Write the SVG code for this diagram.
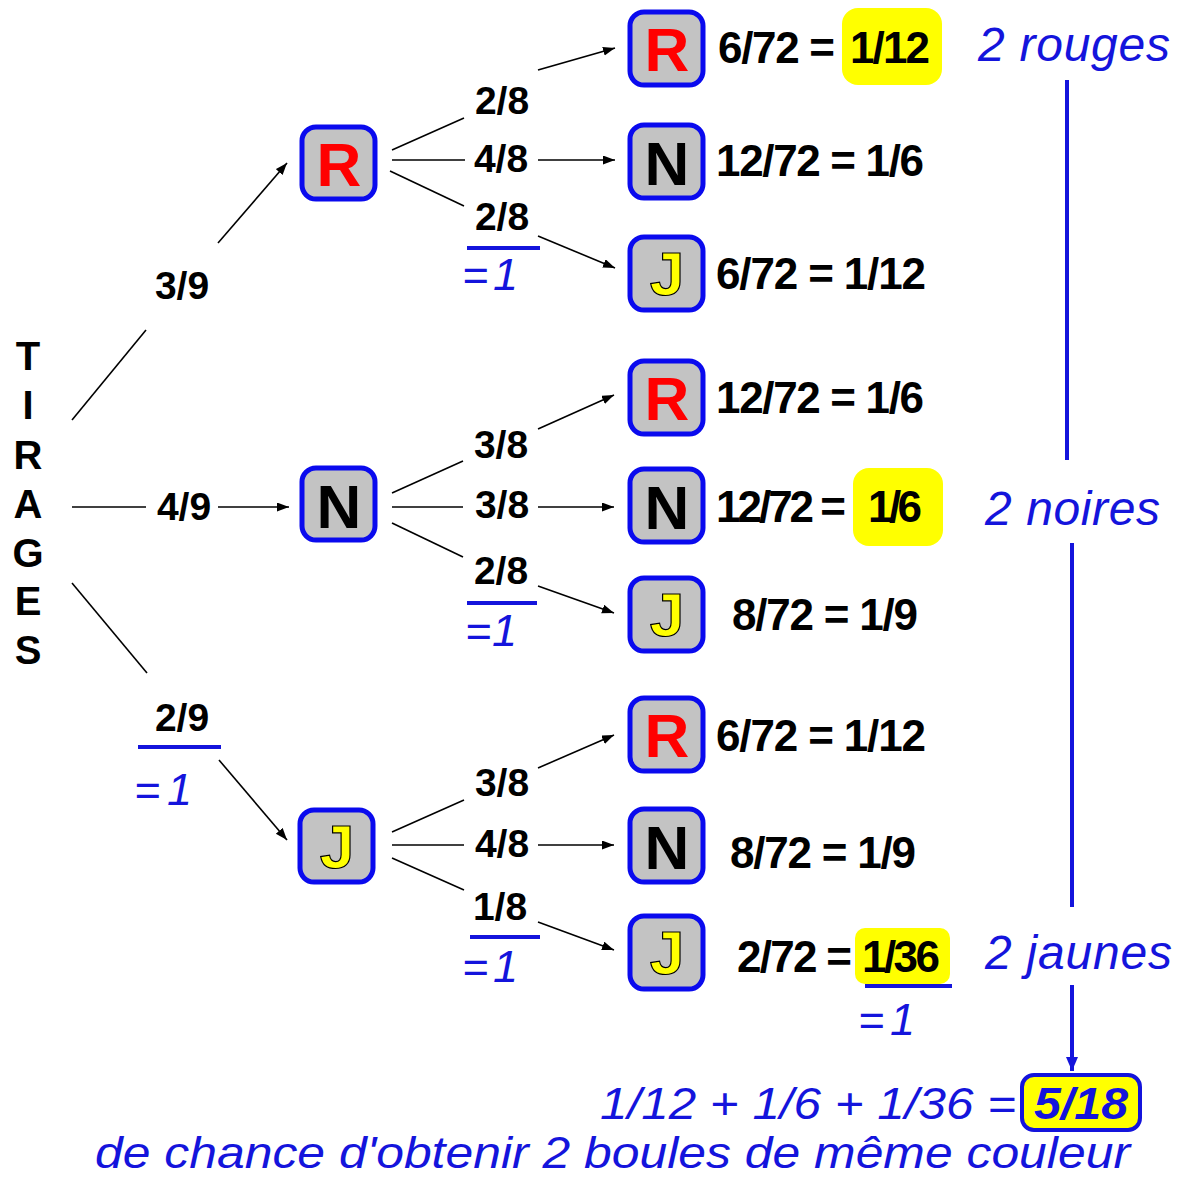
<svg xmlns="http://www.w3.org/2000/svg" width="1181" height="1177" viewBox="0 0 1181 1177">
  <style>
    .box { fill: #c3c3c3; stroke: #0a0aee; stroke-width: 5; }
    .ltr { font-family: "Liberation Sans", Arial, sans-serif; font-size: 62px; font-weight: bold; text-anchor: middle; }
    .lr { fill: #ff0000; }
    .ln { fill: #000000; }
    .lj { fill: #ffff00; stroke: #000000; stroke-width: 1.2; }
    .frac { font-family: "Liberation Sans", Arial, sans-serif; font-size: 39px; font-weight: bold; fill: #000; text-anchor: middle; }
    .res { font-family: "Liberation Sans", Arial, sans-serif; font-size: 44px; font-weight: bold; fill: #000; }
    .blue { font-family: "Liberation Sans", Arial, sans-serif; font-style: italic; fill: #1414dc; }
    .sum { font-size: 45px; }
    .lab { font-size: 48px; }
    .foot { font-size: 45px; }
    .ttl { font-family: "Liberation Sans", Arial, sans-serif; font-size: 40px; font-weight: bold; fill: #000; text-anchor: middle; }
    .bar { stroke: #1414dc; stroke-width: 4; fill: none; }
    .hl { fill: #ffff00; }
    .edge { stroke: #000; stroke-width: 1.6; fill: none; }
  </style>
  <defs>
    <marker id="ah" markerUnits="userSpaceOnUse" markerWidth="13" markerHeight="10" refX="12" refY="4.5" orient="auto">
      <path d="M0,0 L12,4.5 L0,9 z" fill="#000"/>
    </marker>
    <marker id="ahb" markerUnits="userSpaceOnUse" markerWidth="16" markerHeight="14" refX="14" refY="6" orient="auto">
      <path d="M0,0 L14,6 L0,12 z" fill="#1414dc"/>
    </marker>
  </defs>

  <rect width="1181" height="1177" fill="#ffffff"/>

  <!-- vertical title -->
  <g id="title">
    <text class="ttl" x="28" y="370">T</text>
    <text class="ttl" x="28" y="419">I</text>
    <text class="ttl" x="28" y="469">R</text>
    <text class="ttl" x="28" y="518">A</text>
    <text class="ttl" x="28" y="567">G</text>
    <text class="ttl" x="28" y="615">E</text>
    <text class="ttl" x="28" y="664">S</text>
  </g>

  <!-- connectors -->
  <g id="connectors">
    <line class="edge" x1="72" y1="420" x2="146" y2="330"/>
    <line class="edge" x1="218" y1="243" x2="287" y2="163" marker-end="url(#ah)"/>
    <line class="edge" x1="72" y1="507" x2="146" y2="507"/>
    <line class="edge" x1="218" y1="507" x2="289" y2="507" marker-end="url(#ah)"/>
    <line class="edge" x1="72" y1="583" x2="147" y2="673"/>
    <line class="edge" x1="219" y1="760" x2="287" y2="840" marker-end="url(#ah)"/>

    <line class="edge" x1="392" y1="150" x2="464" y2="118"/>
    <line class="edge" x1="538" y1="70" x2="615" y2="48" marker-end="url(#ah)"/>
    <line class="edge" x1="392" y1="160" x2="465" y2="160"/>
    <line class="edge" x1="538" y1="160" x2="615" y2="160" marker-end="url(#ah)"/>
    <line class="edge" x1="390" y1="171" x2="464" y2="206"/>
    <line class="edge" x1="538" y1="236" x2="615" y2="268" marker-end="url(#ah)"/>

    <line class="edge" x1="392" y1="493" x2="463" y2="461"/>
    <line class="edge" x1="538" y1="429" x2="614" y2="395" marker-end="url(#ah)"/>
    <line class="edge" x1="392" y1="507" x2="463" y2="507"/>
    <line class="edge" x1="538" y1="507" x2="614" y2="507" marker-end="url(#ah)"/>
    <line class="edge" x1="392" y1="523" x2="463" y2="557"/>
    <line class="edge" x1="538" y1="586" x2="614" y2="613" marker-end="url(#ah)"/>

    <line class="edge" x1="392" y1="832" x2="464" y2="800"/>
    <line class="edge" x1="538" y1="768" x2="614" y2="735" marker-end="url(#ah)"/>
    <line class="edge" x1="392" y1="845" x2="464" y2="845"/>
    <line class="edge" x1="538" y1="845" x2="614" y2="845" marker-end="url(#ah)"/>
    <line class="edge" x1="392" y1="858" x2="464" y2="890"/>
    <line class="edge" x1="538" y1="922" x2="614" y2="950" marker-end="url(#ah)"/>

    <!-- blue summary line -->
    <line class="bar" x1="1067" y1="80" x2="1067" y2="460"/>
    <line class="bar" x1="1072" y1="543" x2="1072" y2="907"/>
    <line class="bar" x1="1072" y1="985" x2="1072" y2="1071" marker-end="url(#ahb)"/>
  </g>

  <!-- branch probabilities -->
  <g id="labels">
    <text class="frac" x="182" y="299">3/9</text>
    <text class="frac" x="184" y="520">4/9</text>
    <text class="frac" x="182" y="731">2/9</text>
    <line class="bar" x1="138" y1="747" x2="221" y2="747"/>
    <text class="blue sum" x="134" y="805" textLength="58">= 1</text>

    <text class="frac" x="502" y="114">2/8</text>
    <text class="frac" x="501" y="172">4/8</text>
    <text class="frac" x="502" y="230">2/8</text>
    <line class="bar" x1="467" y1="248" x2="540" y2="248"/>
    <text class="blue sum" x="462" y="290" textLength="56">=1</text>

    <text class="frac" x="501" y="458">3/8</text>
    <text class="frac" x="502" y="518">3/8</text>
    <text class="frac" x="501" y="584">2/8</text>
    <line class="bar" x1="467" y1="603" x2="537" y2="603"/>
    <text class="blue sum" x="465" y="646" textLength="52">=1</text>

    <text class="frac" x="502" y="796">3/8</text>
    <text class="frac" x="502" y="857">4/8</text>
    <text class="frac" x="500" y="920">1/8</text>
    <line class="bar" x1="470" y1="937" x2="540" y2="937"/>
    <text class="blue sum" x="462" y="982" textLength="56">= 1</text>
  </g>

  <!-- first draw -->
  <g id="n1-R"><rect class="box" x="302" y="127" width="73" height="72" rx="14"/><text class="ltr lr" x="339" y="186">R</text></g>
  <g id="n1-N"><rect class="box" x="302" y="468" width="73" height="72" rx="14"/><text class="ltr ln" x="339" y="528">N</text></g>
  <g id="n1-J"><rect class="box" x="300" y="810" width="73" height="72" rx="14"/><text class="ltr lj" x="337" y="868">J</text></g>

  <!-- second draw -->
  <g id="n2-RR"><rect class="box" x="630" y="12" width="73" height="73" rx="14"/><text class="ltr lr" x="667" y="71">R</text></g>
  <g id="n2-RN"><rect class="box" x="630" y="125" width="73" height="73" rx="14"/><text class="ltr ln" x="667" y="185">N</text></g>
  <g id="n2-RJ"><rect class="box" x="630" y="237" width="73" height="73" rx="14"/><text class="ltr lj" x="667" y="295">J</text></g>
  <g id="n2-NR"><rect class="box" x="630" y="361" width="73" height="73" rx="14"/><text class="ltr lr" x="667" y="420">R</text></g>
  <g id="n2-NN"><rect class="box" x="630" y="469" width="73" height="73" rx="14"/><text class="ltr ln" x="667" y="529">N</text></g>
  <g id="n2-NJ"><rect class="box" x="630" y="578" width="73" height="73" rx="14"/><text class="ltr lj" x="667" y="636">J</text></g>
  <g id="n2-JR"><rect class="box" x="630" y="698" width="73" height="73" rx="14"/><text class="ltr lr" x="667" y="757">R</text></g>
  <g id="n2-JN"><rect class="box" x="630" y="809" width="73" height="73" rx="14"/><text class="ltr ln" x="667" y="869">N</text></g>
  <g id="n2-JJ"><rect class="box" x="630" y="916" width="73" height="73" rx="14"/><text class="ltr lj" x="667" y="974">J</text></g>

  <!-- path probabilities -->
  <g id="results">
    <rect class="hl" x="842" y="8" width="100" height="77" rx="16"/>
    <text class="res" x="718" y="63" textLength="117">6/72 =</text>
    <text class="res" x="850" y="63" textLength="80">1/12</text>

    <text class="res" x="716" y="176" textLength="208">12/72 = 1/6</text>
    <text class="res" x="716" y="289" textLength="210">6/72 = 1/12</text>
    <text class="res" x="716" y="413" textLength="208">12/72 = 1/6</text>

    <rect class="hl" x="853" y="468" width="90" height="78" rx="16"/>
    <text class="res" x="716" y="522" textLength="130">12/72 =</text>
    <text class="res" x="868" y="522" textLength="54">1/6</text>

    <text class="res" x="732" y="630" textLength="186">8/72 = 1/9</text>
    <text class="res" x="716" y="751" textLength="210">6/72 = 1/12</text>
    <text class="res" x="730" y="868" textLength="186">8/72 = 1/9</text>

    <rect class="hl" x="855" y="928" width="95" height="56" rx="10"/>
    <text class="res" x="737" y="972" textLength="115">2/72 =</text>
    <text class="res" x="862" y="972" textLength="78">1/36</text>
    <line class="bar" x1="865" y1="986" x2="952" y2="986"/>
    <text class="blue sum" x="858" y="1035" textLength="57">= 1</text>
  </g>

  <!-- colour groups -->
  <g id="groups">
    <text class="blue lab" x="978" y="61" textLength="192">2 rouges</text>
    <text class="blue lab" x="985" y="525" textLength="175">2 noires</text>
    <text class="blue lab" x="985" y="969" textLength="187">2 jaunes</text>
  </g>

  <!-- total -->
  <g id="total">
    <text class="blue foot" x="600" y="1119" textLength="416" lengthAdjust="spacingAndGlyphs">1/12 + 1/6 + 1/36 =</text>
    <rect x="1022" y="1075" width="118" height="55" rx="12" fill="#ffff00" stroke="#1414dc" stroke-width="4"/>
    <text class="blue foot" x="1081" y="1119" text-anchor="middle" font-weight="bold" fill="#10109a" textLength="94" lengthAdjust="spacingAndGlyphs">5/18</text>
    <text class="blue foot" x="95" y="1168" textLength="1035" lengthAdjust="spacingAndGlyphs">de chance d'obtenir 2 boules de même couleur</text>
  </g>
</svg>
